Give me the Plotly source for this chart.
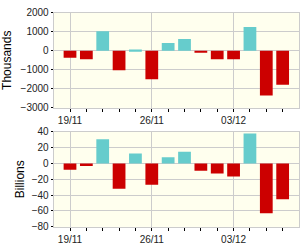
import plotly.graph_objects as go

dates = ["19/11", "20/11", "21/11", "22/11", "23/11", "26/11", "27/11",
         "28/11", "29/11", "30/11", "03/12", "04/12", "05/12", "06/12"]
thousands = [-370, -450, 1030, -1030, 60, -1500, 400, 620, -50, -450, -450, 1250, -2350, -1780]
billions = [-8, -3.2, 30.5, -32, 12.5, -27, 7.6, 14.8, -9.2, -12.8, -16.4, 37.6, -63, -45.2]
label_dates = ["19/11", "26/11", "03/12"]

RED = "#CC0000"
CYAN = "#66CCCC"

def colors(vals):
    return [CYAN if v >= 0 else RED for v in vals]

idx = list(range(len(dates)))
label_idx = [dates.index(d) for d in label_dates]

fig = go.Figure()
fig.add_trace(go.Bar(x=idx, y=thousands, marker=dict(color=colors(thousands), line=dict(width=0)),
                     width=0.78, xaxis="x", yaxis="y", showlegend=False))
fig.add_trace(go.Bar(x=idx, y=billions, marker=dict(color=colors(billions), line=dict(width=0)),
                     width=0.78, xaxis="x2", yaxis="y2", showlegend=False))

font = dict(family="Liberation Sans Narrow, Liberation Sans, Arial, sans-serif", size=10, color="#222222")
title_font = dict(family="Liberation Sans, Arial, sans-serif", size=12, color="#000000")
grid = "#CCCCCC"

def xax(anchor):
    return dict(domain=[0.1733, 0.9967], anchor=anchor, range=[-1, 14],
                tickmode="array", tickvals=label_idx, ticktext=label_dates,
                ticks="outside", ticklen=3, tickcolor="#000000", tickwidth=1,
                showgrid=True, gridcolor=grid, gridwidth=1,
                minor=dict(tickvals=idx, ticks="outside", ticklen=3, tickcolor="#000000", showgrid=False),
                showline=True, linecolor=grid, mirror=True, zeroline=False,
                tickfont=font, fixedrange=True)

def yax(anchor, domain, rng, dt, title, standoff):
    return dict(domain=domain, anchor=anchor, range=rng, dtick=dt, tick0=0,
                showgrid=True, gridcolor=grid, zeroline=True, zerolinecolor=grid, zerolinewidth=1,
                showline=True, linecolor=grid, mirror=True,
                ticks="outside", ticklen=2, tickcolor="#000000",
                tickfont=font, title=dict(text=title, font=title_font, standoff=standoff),
                fixedrange=True)

fig.update_layout(
    width=300, height=250,
    margin=dict(l=0, r=0, t=0, b=0),
    paper_bgcolor="#FFFFFF",
    plot_bgcolor="#FFFFEE",
    xaxis=xax("y"),
    xaxis2=xax("y2"),
    yaxis=yax("x", [0.572, 0.972], [-3000, 2000], 1000, "Thousands", 12),
    yaxis2=yax("x2", [0.072, 0.472], [-80, 40], 20, "Billions", 4),
)

fig.write_html("out.html")
